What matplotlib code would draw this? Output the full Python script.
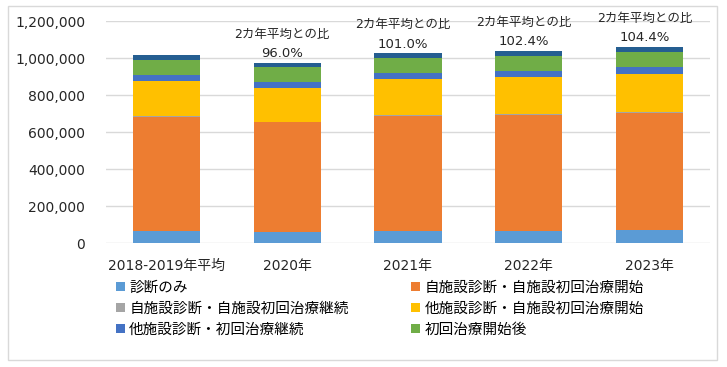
import numpy as np
import matplotlib
matplotlib.use("Agg")
from matplotlib import pyplot as plt
from matplotlib.patches import Patch, Rectangle

plt.rcParams['font.family'] = ['DejaVu Sans', 'Noto Sans CJK JP']

# data
categories = ['2018-2019年平均', '2020年', '2021年', '2022年', '2023年']
series_names = ['診断のみ', '自施設診断・自施設初回治療開始', '自施設診断・自施設初回治療継続',
                '他施設診断・自施設初回治療開始', '他施設診断・初回治療継続', '初回治療開始後', 'その他']
shindan_nomi = [67000, 63000, 67000, 67000, 74000]
jishisetsu_kaishi = [616000, 592000, 621000, 628000, 630000]
jishisetsu_keizoku = [7000, 2000, 7000, 2000, 7000]
tashisetsu_kaishi = [187000, 182000, 193000, 202000, 206000]
tashisetsu_keizoku = [32000, 32000, 32000, 32000, 36000]
shoki_go = [81000, 81000, 81000, 81000, 81000]
sonota = [28000, 25000, 27000, 30000, 29000]
ratio_labels = ['', '96.0%', '101.0%', '102.4%', '104.4%']

colors = ['#5b9bd5', '#ed7d31', '#a5a5a5', '#ffc000', '#4472c4', '#70ad47', '#255e91']

series = [shindan_nomi, jishisetsu_kaishi, jishisetsu_keizoku, tashisetsu_kaishi,
          tashisetsu_keizoku, shoki_go, sonota]

fig = plt.figure(figsize=(7.27, 3.67), dpi=100)
ax = fig.add_axes([106 / 727, 1 - 243.3 / 367, 604 / 727, 222 / 367])

x = np.arange(len(categories))
bottom = np.zeros(len(categories))
handles = []
for name, vals, c in zip(series_names, series, colors):
    ax.bar(x, vals, 0.555, bottom=bottom, color=c, zorder=3)
    bottom += np.array(vals)
    handles.append(Patch(facecolor=c, label=name))

# ratio labels above bars
for i, lab in enumerate(ratio_labels):
    if not lab:
        continue
    ax.annotate(lab, (x[i], bottom[i]), xytext=(-3.6, 6.5), textcoords='offset points',
                ha='center', va='center', fontsize=9.5, color='#262626')
    ax.annotate('2カ年平均との比', (x[i], bottom[i]), xytext=(-3.6, 20.5), textcoords='offset points',
                ha='center', va='center', fontsize=9, color='#262626')

ax.set_xlim(-0.5, len(categories) - 0.5)
ax.set_ylim(0, 1200000)
ax.set_yticks(np.arange(0, 1200001, 200000))
ax.set_yticklabels([f'{v:,}' for v in range(0, 1200001, 200000)])
ax.set_xticks(x)
ax.set_xticklabels(categories)
ax.tick_params(axis='y', length=0, pad=15, labelsize=10, labelcolor='#262626')
ax.tick_params(axis='x', length=0, pad=11, labelsize=10, labelcolor='#262626')
ax.grid(axis='y', color='#d9d9d9', lw=1, zorder=0)
for s in ax.spines.values():
    s.set_visible(False)

# legend: only the first six series, two columns filled row by row
order = [0, 2, 4, 1, 3, 5]
fig.legend([handles[i] for i in order], [series_names[i] for i in order],
           ncol=2, loc='upper left', bbox_to_anchor=(116 / 727, 1 - 280 / 367),
           frameon=False, fontsize=10.5, handlelength=0.6, handleheight=0.6,
           handletextpad=0.3, labelspacing=0.4, columnspacing=4.3,
           borderpad=0, borderaxespad=0)

fig.patches.append(Rectangle((8 / 727, 1 - 360 / 367), 709 / 727, 354 / 367,
                             transform=fig.transFigure, fill=False,
                             edgecolor='#d9d9d9', lw=1))

fig.savefig('out.png', dpi=100)
